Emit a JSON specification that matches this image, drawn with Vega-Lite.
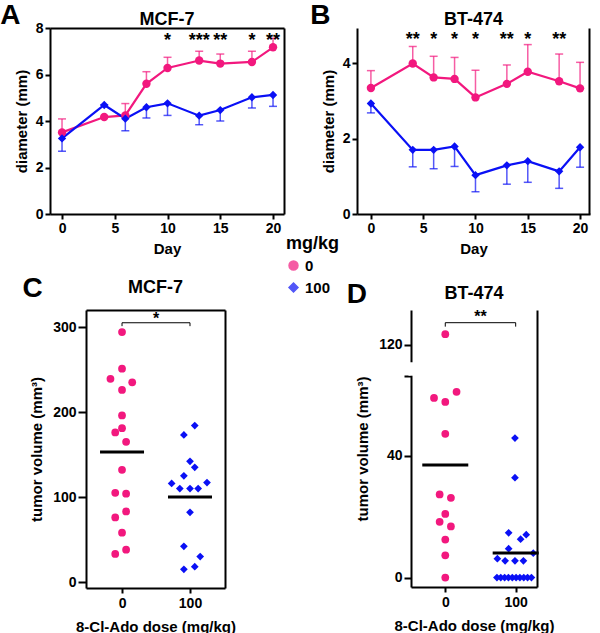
{
  "$schema": "https://vega.github.io/schema/vega-lite/v6.json",
  "padding": {"left": 0, "top": 2, "right": 2, "bottom": 2},
  "background": "white",
  "config": {
    "font": "Liberation Sans",
    "view": {"stroke": null},
    "axis": {"grid": true, "gridWidth": 2, "labelOverlap": false, "domainColor": "black", "domainWidth": 2, "tickColor": "black", "tickWidth": 2, "tickSize": 5, "labelFontWeight": "bold", "labelFontSize": 14, "labelColor": "black", "labelPadding": 2, "titleFontWeight": "bold", "titleFontSize": 15, "titleColor": "black"},
    "title": {"fontSize": 18, "fontWeight": "bold", "color": "black"},
    "legend": {"orient": "none", "legendX": 236, "legendY": 207, "titleFontSize": 18, "titleFontWeight": "bold", "titleColor": "black", "labelFontSize": 15, "labelFontWeight": "bold", "labelColor": "black", "symbolSize": 80, "rowPadding": 6}
  },
  "resolve": {"scale": {"color": "shared", "shape": "shared"}},
  "datasets": {
    "lineA": [
      {"day": 0, "dose": "0", "mean": 3.51, "bar": 4.09},
      {"day": 4, "dose": "0", "mean": 4.17, "bar": 4.17},
      {"day": 6, "dose": "0", "mean": 4.24, "bar": 4.75},
      {"day": 8, "dose": "0", "mean": 5.6, "bar": 6.12},
      {"day": 10, "dose": "0", "mean": 6.28, "bar": 6.74},
      {"day": 13, "dose": "0", "mean": 6.6, "bar": 7.0},
      {"day": 15, "dose": "0", "mean": 6.47, "bar": 6.88},
      {"day": 18, "dose": "0", "mean": 6.54, "bar": 7.0},
      {"day": 20, "dose": "0", "mean": 7.17, "bar": 7.56},
      {"day": 0, "dose": "100", "mean": 3.25, "bar": 2.7},
      {"day": 4, "dose": "100", "mean": 4.69, "bar": 4.69},
      {"day": 6, "dose": "100", "mean": 4.1, "bar": 3.58},
      {"day": 8, "dose": "100", "mean": 4.59, "bar": 4.13},
      {"day": 10, "dose": "100", "mean": 4.76, "bar": 4.24},
      {"day": 13, "dose": "100", "mean": 4.23, "bar": 3.84},
      {"day": 15, "dose": "100", "mean": 4.47, "bar": 4.0},
      {"day": 18, "dose": "100", "mean": 5.02, "bar": 4.56},
      {"day": 20, "dose": "100", "mean": 5.12, "bar": 4.63}
    ],
    "lineB": [
      {"day": 0, "dose": "0", "mean": 3.34, "bar": 3.8},
      {"day": 4, "dose": "0", "mean": 3.99, "bar": 4.44},
      {"day": 6, "dose": "0", "mean": 3.62, "bar": 4.18},
      {"day": 8, "dose": "0", "mean": 3.58, "bar": 4.15},
      {"day": 10, "dose": "0", "mean": 3.09, "bar": 3.81},
      {"day": 13, "dose": "0", "mean": 3.45, "bar": 3.95},
      {"day": 15, "dose": "0", "mean": 3.77, "bar": 4.49},
      {"day": 18, "dose": "0", "mean": 3.52, "bar": 4.24},
      {"day": 20, "dose": "0", "mean": 3.33, "bar": 4.02},
      {"day": 0, "dose": "100", "mean": 2.93, "bar": 2.68},
      {"day": 4, "dose": "100", "mean": 1.7, "bar": 1.25},
      {"day": 6, "dose": "100", "mean": 1.7, "bar": 1.2},
      {"day": 8, "dose": "100", "mean": 1.79, "bar": 1.26},
      {"day": 10, "dose": "100", "mean": 1.03, "bar": 0.59},
      {"day": 13, "dose": "100", "mean": 1.29, "bar": 0.79},
      {"day": 15, "dose": "100", "mean": 1.4, "bar": 0.84},
      {"day": 18, "dose": "100", "mean": 1.13, "bar": 0.68},
      {"day": 20, "dose": "100", "mean": 1.77, "bar": 1.24}
    ],
    "starsA": [
      {"day": 10, "sig": "*"}, {"day": 13, "sig": "***"}, {"day": 15, "sig": "**"}, {"day": 18, "sig": "*"}, {"day": 20, "sig": "**"}
    ],
    "starsB": [
      {"day": 4, "sig": "**"}, {"day": 6, "sig": "*"}, {"day": 8, "sig": "*"}, {"day": 10, "sig": "*"}, {"day": 13, "sig": "**"}, {"day": 15, "sig": "*"}, {"day": 18, "sig": "**"}
    ],
    "dotC": [
      {"dose": "0", "x": 0, "vol": 294}, {"dose": "0", "x": 0, "vol": 251}, {"dose": "0", "x": -17, "vol": 239}, {"dose": "0", "x": 15, "vol": 235},
      {"dose": "0", "x": 0, "vol": 226}, {"dose": "0", "x": 0, "vol": 196}, {"dose": "0", "x": 0, "vol": 181}, {"dose": "0", "x": -10, "vol": 176},
      {"dose": "0", "x": 6, "vol": 165}, {"dose": "0", "x": 0, "vol": 132}, {"dose": "0", "x": -10, "vol": 105}, {"dose": "0", "x": 6, "vol": 104},
      {"dose": "0", "x": 6, "vol": 83}, {"dose": "0", "x": -10, "vol": 76}, {"dose": "0", "x": 0, "vol": 58}, {"dose": "0", "x": 6, "vol": 38},
      {"dose": "0", "x": -10, "vol": 33},
      {"dose": "100", "x": 107, "vol": 184}, {"dose": "100", "x": 91, "vol": 173}, {"dose": "100", "x": 100, "vol": 142}, {"dose": "100", "x": 107, "vol": 135},
      {"dose": "100", "x": 91, "vol": 125}, {"dose": "100", "x": 73, "vol": 116}, {"dose": "100", "x": 85, "vol": 110}, {"dose": "100", "x": 100, "vol": 110},
      {"dose": "100", "x": 112, "vol": 110}, {"dose": "100", "x": 125, "vol": 117}, {"dose": "100", "x": 100, "vol": 82}, {"dose": "100", "x": 91, "vol": 42},
      {"dose": "100", "x": 115, "vol": 30}, {"dose": "100", "x": 91, "vol": 15}, {"dose": "100", "x": 107, "vol": 18}
    ],
    "meanC": [{"dose": "0", "x": 0, "vol": 153}, {"dose": "100", "x": 100, "vol": 100}],
    "dotD": [
      {"dose": "0", "x": 0, "vol": 123.5}, {"dose": "0", "x": -16, "vol": 59}, {"dose": "0", "x": 16, "vol": 61}, {"dose": "0", "x": 0, "vol": 57.7},
      {"dose": "0", "x": 0, "vol": 47.2}, {"dose": "0", "x": -8, "vol": 27.3}, {"dose": "0", "x": 8, "vol": 26.2}, {"dose": "0", "x": 0, "vol": 20.9},
      {"dose": "0", "x": -8, "vol": 18.3}, {"dose": "0", "x": 8, "vol": 16.8}, {"dose": "0", "x": 0, "vol": 12.5}, {"dose": "0", "x": 0, "vol": 7.3},
      {"dose": "0", "x": 0, "vol": 0},
      {"dose": "100", "x": 99, "vol": 45.8}, {"dose": "100", "x": 99, "vol": 32.8}, {"dose": "100", "x": 90, "vol": 14.7}, {"dose": "100", "x": 115, "vol": 14.1},
      {"dose": "100", "x": 107, "vol": 12.6}, {"dose": "100", "x": 90, "vol": 9.5}, {"dose": "100", "x": 74, "vol": 6.2}, {"dose": "100", "x": 85, "vol": 5.5},
      {"dose": "100", "x": 99, "vol": 5.5}, {"dose": "100", "x": 111, "vol": 5.5}, {"dose": "100", "x": 125, "vol": 8.0},
      {"dose": "100", "x": 73.4, "vol": 0}, {"dose": "100", "x": 78.8, "vol": 0}, {"dose": "100", "x": 84.3, "vol": 0}, {"dose": "100", "x": 89.7, "vol": 0},
      {"dose": "100", "x": 95.2, "vol": 0}, {"dose": "100", "x": 100.6, "vol": 0}, {"dose": "100", "x": 106, "vol": 0}, {"dose": "100", "x": 111.5, "vol": 0},
      {"dose": "100", "x": 116.9, "vol": 0}, {"dose": "100", "x": 122.4, "vol": 0}
    ],
    "meanD": [{"dose": "0", "x": 0, "vol": 37.0}, {"dose": "100", "x": 100, "vol": 8.1}],
    "frame": [{"edge": "frame"}]
  },
  "center": true,
  "spacing": 19,
  "vconcat": [
    {
      "spacing": 25,
      "hconcat": [
        {
          "title": {"text": "A", "anchor": "start", "fontSize": 28, "offset": -19, "dx": -14},
          "vconcat": [
            {
              "width": 234, "height": 186,
              "title": {"text": "MCF-7", "anchor": "middle", "offset": -8},
              "data": {"name": "lineA"},
              "encoding": {
                "x": {"field": "day", "type": "quantitative", "scale": {"domain": [-1.14, 21.04], "nice": false, "zero": false}, "axis": {"values": [0, 5, 10, 15, 20, 21.0], "labelExpr": "datum.value > 20.5 ? '' : datum.label", "tickColor": {"condition": {"test": "datum.value > 20.5", "value": "transparent"}, "value": "black"}, "gridColor": {"condition": {"test": "datum.value > 20.5", "value": "black"}, "value": "transparent"}, "title": "Day", "titlePadding": 6}}
              },
              "layer": [
                {"mark": {"type": "rule", "strokeWidth": 1.5, "opacity": 0.7}, "encoding": {"y": {"field": "mean", "type": "quantitative", "scale": {"domain": [0, 8], "nice": false}, "axis": {"values": [0, 2, 4, 6, 7.99], "labelExpr": "datum.value > 7.9 ? '8' : datum.label", "gridColor": {"condition": {"test": "datum.value > 7.9", "value": "black"}, "value": "transparent"}, "title": "diameter (mm)", "titlePadding": 6}}, "y2": {"field": "bar"}, "color": {"field": "dose", "type": "nominal", "title": "mg/kg"}}},
                {"mark": {"type": "tick", "orient": "horizontal", "size": 8, "thickness": 1.5, "opacity": 0.7}, "encoding": {"y": {"field": "bar", "type": "quantitative"}, "color": {"field": "dose", "type": "nominal", "title": "mg/kg"}}},
                {"mark": {"type": "line", "strokeWidth": 2.2}, "encoding": {"y": {"field": "mean", "type": "quantitative"}, "color": {"field": "dose", "type": "nominal", "title": "mg/kg"}}},
                {"mark": {"type": "point", "filled": true, "opacity": 1, "size": 70}, "encoding": {"y": {"field": "mean", "type": "quantitative"}, "color": {"field": "dose", "type": "nominal", "title": "mg/kg", "scale": {"domain": ["0", "100"], "range": ["#F2187E", "#0A10F5"]}}, "shape": {"field": "dose", "type": "nominal", "title": "mg/kg", "scale": {"domain": ["0", "100"], "range": ["circle", "diamond"]}}}},
                {"data": {"name": "starsA"}, "mark": {"type": "text", "fontSize": 18, "fontWeight": "bold", "baseline": "middle", "color": "black"}, "encoding": {"y": {"datum": 7.46}, "text": {"field": "sig"}}}
              ]
            }
          ]
        },
        {
          "title": {"text": "B", "anchor": "start", "fontSize": 28, "offset": -19, "dx": -11},
          "vconcat": [
            {
              "width": 233, "height": 186,
              "title": {"text": "BT-474", "anchor": "middle", "offset": -1},
              "data": {"name": "lineB"},
              "encoding": {
                "x": {"field": "day", "type": "quantitative", "scale": {"domain": [-1.33, 20.95], "nice": false, "zero": false}, "axis": {"values": [0, 5, 10, 15, 20, 20.9], "labelExpr": "datum.value > 20.5 ? '' : datum.label", "tickColor": {"condition": {"test": "datum.value > 20.5", "value": "transparent"}, "value": "black"}, "gridColor": {"condition": {"test": "datum.value > 20.5", "value": "black"}, "value": "transparent"}, "title": "Day", "titlePadding": 6}}
              },
              "layer": [
                {"mark": {"type": "rule", "strokeWidth": 1.5, "opacity": 0.7}, "encoding": {"y": {"field": "mean", "type": "quantitative", "scale": {"domain": [0, 4.93], "nice": false}, "axis": {"values": [0, 1, 2, 3, 4, 4.92], "labelExpr": "datum.value > 4.5 ? '' : datum.label", "tickColor": {"condition": {"test": "datum.value > 4.5", "value": "transparent"}, "value": "black"}, "gridColor": {"condition": {"test": "datum.value > 4.5", "value": "black"}, "value": "transparent"}, "title": "diameter (mm)", "titlePadding": 6}}, "y2": {"field": "bar"}, "color": {"field": "dose", "type": "nominal", "title": "mg/kg"}}},
                {"mark": {"type": "tick", "orient": "horizontal", "size": 8, "thickness": 1.5, "opacity": 0.7}, "encoding": {"y": {"field": "bar", "type": "quantitative"}, "color": {"field": "dose", "type": "nominal", "title": "mg/kg"}}},
                {"mark": {"type": "line", "strokeWidth": 2.2}, "encoding": {"y": {"field": "mean", "type": "quantitative"}, "color": {"field": "dose", "type": "nominal", "title": "mg/kg"}}},
                {"mark": {"type": "point", "filled": true, "opacity": 1, "size": 70}, "encoding": {"y": {"field": "mean", "type": "quantitative"}, "color": {"field": "dose", "type": "nominal", "title": "mg/kg"}, "shape": {"field": "dose", "type": "nominal", "title": "mg/kg"}}},
                {"data": {"name": "starsB"}, "mark": {"type": "text", "fontSize": 18, "fontWeight": "bold", "baseline": "middle", "color": "black"}, "encoding": {"y": {"datum": 4.6}, "text": {"field": "sig"}}}
              ]
            }
          ]
        }
      ]
    },
    {
      "spacing": 110,
      "hconcat": [
        {
          "title": {"text": "C", "anchor": "start", "align": "center", "fontSize": 28, "offset": -24, "dx": 3},
          "vconcat": [
            {
              "width": 139, "height": 278,
              "title": {"text": "MCF-7", "anchor": "middle", "offset": 6},
              "layer": [
                {"data": {"name": "dotC"}, "mark": {"type": "point", "filled": true, "opacity": 1, "size": 60}, "encoding": {
                  "x": {"field": "x", "type": "quantitative", "scale": {"domain": [-53, 151.5], "nice": false, "zero": false}, "axis": {"values": [0, 100, 151], "labelExpr": "datum.value > 140 ? '' : datum.label", "tickColor": {"condition": {"test": "datum.value > 140", "value": "transparent"}, "value": "black"}, "gridColor": {"condition": {"test": "datum.value > 140", "value": "black"}, "value": "transparent"}, "title": "8-Cl-Ado dose (mg/kg)", "labelPadding": 3, "titlePadding": 9}},
                  "y": {"field": "vol", "type": "quantitative", "scale": {"domain": [-7, 320], "nice": false, "zero": false}, "axis": {"values": [0, 100, 200, 300, 319.5], "labelExpr": "datum.value > 310 ? '' : datum.label", "tickColor": {"condition": {"test": "datum.value > 310", "value": "transparent"}, "value": "black"}, "gridColor": {"condition": {"test": "datum.value > 310", "value": "black"}, "value": "transparent"}, "title": "tumor volume (mm³)", "titlePadding": 8, "tickSize": 8}},
                  "color": {"field": "dose", "type": "nominal", "title": "mg/kg"}, "shape": {"field": "dose", "type": "nominal", "title": "mg/kg"}}},
                {"data": {"name": "meanC"}, "mark": {"type": "tick", "orient": "horizontal", "size": 44, "thickness": 3, "color": "black", "opacity": 1}, "encoding": {"x": {"field": "x", "type": "quantitative"}, "y": {"field": "vol", "type": "quantitative"}}},
                {"data": {"name": "frame"}, "mark": {"type": "rule", "strokeWidth": 1, "color": "black"}, "encoding": {"x": {"datum": 0}, "x2": {"datum": 100}, "y": {"datum": 305}}},
                {"data": {"values": [{"x": 0}, {"x": 100}]}, "mark": {"type": "rule", "strokeWidth": 1, "color": "black"}, "encoding": {"x": {"field": "x", "type": "quantitative"}, "y": {"datum": 305}, "y2": {"datum": 301}}},
                {"data": {"values": [{"sig": "*"}]}, "mark": {"type": "text", "fontSize": 16, "fontWeight": "bold", "baseline": "middle", "color": "black"}, "encoding": {"x": {"datum": 50}, "y": {"datum": 309}, "text": {"field": "sig"}}}
              ]
            }
          ]
        },
        {
          "title": {"text": "D", "anchor": "start", "fontSize": 28, "offset": -24, "dx": -9},
          "vconcat": [
            {
              "width": 126, "height": 277,
              "title": {"text": "BT-474", "anchor": "middle", "offset": 6},
              "layer": [
                {"data": {"name": "dotD"}, "mark": {"type": "point", "filled": true, "opacity": 1, "size": 60}, "encoding": {
                  "x": {"field": "x", "type": "quantitative", "scale": {"domain": [-48.7, 130.3], "nice": false, "zero": false}, "axis": {"values": [0, 100, 130.3], "labelExpr": "datum.value > 125 ? '' : datum.label", "tickColor": {"condition": {"test": "datum.value > 125", "value": "transparent"}, "value": "black"}, "gridColor": {"condition": {"test": "datum.value > 125", "value": "black"}, "value": "transparent"}, "title": "8-Cl-Ado dose (mg/kg)", "labelPadding": 3, "titlePadding": 9}},
                  "y": {"field": "vol", "type": "quantitative", "scale": {"domain": [-3.1, 66.2, 114.3, 131.5], "range": [277, 66, 52, 0], "nice": false, "zero": false}, "axis": {"values": [0, 20, 40, 60, 66.2, 114.3, 120, 131.2], "labelExpr": "datum.value == 66.2 || datum.value == 114.3 || datum.value > 130 ? '' : datum.label", "tickColor": {"condition": {"test": "datum.value > 130", "value": "transparent"}, "value": "black"}, "gridColor": {"condition": {"test": "datum.value > 130", "value": "black"}, "value": "transparent"}, "title": "tumor volume (mm³)", "titlePadding": 8, "tickSize": 7}},
                  "color": {"field": "dose", "type": "nominal", "title": "mg/kg"}, "shape": {"field": "dose", "type": "nominal", "title": "mg/kg"}}},
                {"data": {"name": "meanD"}, "mark": {"type": "tick", "orient": "horizontal", "size": 46, "thickness": 3, "color": "black", "opacity": 1}, "encoding": {"x": {"field": "x", "type": "quantitative"}, "y": {"field": "vol", "type": "quantitative"}}},
                {"data": {"name": "frame"}, "mark": {"type": "rule", "strokeWidth": 1, "color": "black"}, "encoding": {"x": {"datum": 0}, "x2": {"datum": 100}, "y": {"datum": 127.3}}},
                {"data": {"values": [{"x": 0}, {"x": 100}]}, "mark": {"type": "rule", "strokeWidth": 1, "color": "black"}, "encoding": {"x": {"field": "x", "type": "quantitative"}, "y": {"datum": 127.3}, "y2": {"datum": 126}}},
                {"data": {"values": [{"sig": "**"}]}, "mark": {"type": "text", "fontSize": 16, "fontWeight": "bold", "baseline": "middle", "color": "black"}, "encoding": {"x": {"datum": 50}, "y": {"datum": 129.3}, "text": {"field": "sig"}}},
                {"data": {"name": "frame"}, "mark": {"type": "rule", "strokeWidth": 5, "color": "white", "clip": false}, "encoding": {"x": {"datum": -48.7}, "y": {"datum": 67.2}, "y2": {"datum": 113.4}}}
              ]
            }
          ]
        }
      ]
    }
  ]
}
